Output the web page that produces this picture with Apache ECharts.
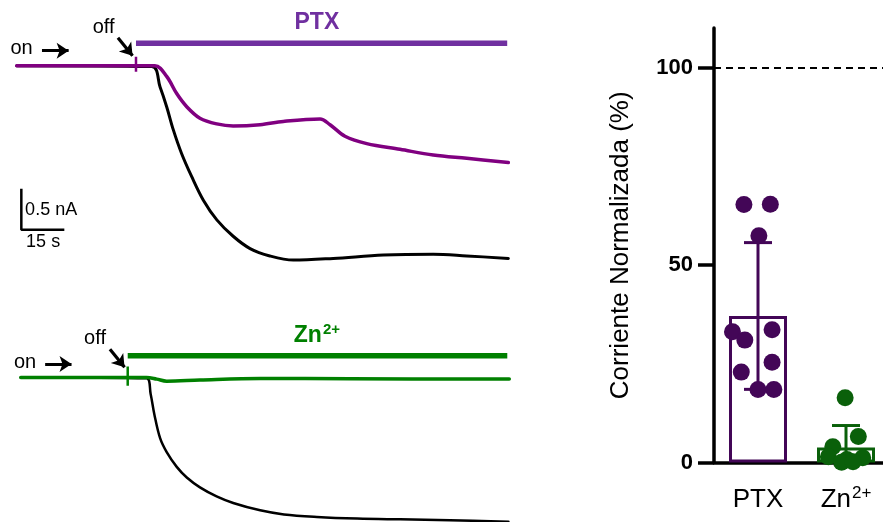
<!DOCTYPE html>
<html>
<head>
<meta charset="utf-8">
<script src="https://cdn.jsdelivr.net/npm/echarts@6/dist/echarts.min.js"></script>
<style>
  html, body { margin: 0; padding: 0; background: #fff; }
  #chart { width: 883px; height: 522px; }
</style>
</head>
<body>
<div id="chart"></div>
<script>
// ---- Recordings: time in s (0 = "off" mark), current in nA ----
// PTX experiment
const ctlTopTime = [-41.6, 5.5, 8.4, 10.7, 13.0, 15.9, 19.4, 23.5, 28.2, 33.9, 39.8, 46.7, 54.9, 68.8, 86.3, 103.7, 115.4, 129.9];
const ctlTopCurrent = [0, -0.01, -0.26, -0.50, -0.78, -1.07, -1.35, -1.64, -1.88, -2.08, -2.23, -2.32, -2.37, -2.35, -2.31, -2.30, -2.32, -2.35];
const ptxTime = [-41.6, 6.6, 10.7, 14.2, 17.7, 22.3, 28.2, 33.9, 43.3, 51.4, 64.2, 67.7, 72.9, 80.5, 92.1, 103.7, 115.4, 129.9];
const ptxCurrent = [0, 0, -0.13, -0.34, -0.50, -0.64, -0.71, -0.735, -0.72, -0.68, -0.65, -0.72, -0.86, -0.95, -1.02, -1.09, -1.13, -1.18];
const ptxApplied = [0, 129.5];

// Zn2+ experiment
const ctlBotTime = [-37.3, 6.6, 8.0, 9.3, 11.3, 13.6, 17.1, 20.6, 25.2, 31.0, 36.8, 46.2, 54.5, 66.0, 80.0, 95.0, 112.4, 132.8];
const ctlBotCurrent = [0, -0.01, -0.20, -0.45, -0.74, -0.91, -1.09, -1.22, -1.34, -1.45, -1.53, -1.62, -1.67, -1.70, -1.72, -1.73, -1.74, -1.76];
const znTime = [-37.3, 6.6, 10.1, 13.6, 25.2, 46.2, 77.5, 133.1];
const znCurrent = [0, 0, -0.02, -0.045, -0.03, -0.012, -0.016, -0.018];
const znApplied = [0, 132.4];

// Scale bar
const scaleCurrent = 0.5; // nA
const scaleTime = 15;     // s

// ---- Normalised current (%) per cell ----
const groups = ['PTX', 'Zn2+'];
const ptxPercent = [65.3, 65.4, 57.4, 33.1, 31.0, 33.6, 22.9, 25.4, 18.5, 18.5];
const ptxJitter = [-0.16, 0.14, 0.01, -0.29, -0.15, 0.16, -0.19, 0.16, 0.0, 0.18];
const znPercent = [16.4, 6.6, 4.0, 1.5, 0.8, 1.2, 0.1, 0.2];
const znJitter = [-0.01, 0.14, -0.15, -0.2, 0.01, 0.19, -0.05, 0.08];
const referenceLevel = 100;

// ---- helpers ----
const FONT = 'Liberation Sans, Arial, sans-serif';
const PURPLE_BAR = '#7030A0';
const PURPLE_TRACE = '#800080';
const GREEN = '#008000';
const DOT_PURPLE = '#430657';
const DOT_GREEN = '#0a600a';

const zip = (xs, ys) => xs.map((x, k) => [x, ys[k]]);
const mean = a => a.reduce((s, v) => s + v, 0) / a.length;
const sd = a => { const m = mean(a); return Math.sqrt(a.reduce((s, v) => s + (v - m) * (v - m), 0) / (a.length - 1)); };

const groupData = [ptxPercent, znPercent];
const groupMean = groupData.map(mean);
const groupSd = groupData.map(sd);
const groupColor = [DOT_PURPLE, DOT_GREEN];

function traceSeries(grid, data, color, width, z) {
  return {
    type: 'line', xAxisIndex: grid, yAxisIndex: grid, data,
    showSymbol: false, symbol: 'none', smooth: 0.35, sampling: null,
    lineStyle: { color, width, cap: 'round', join: 'round' }, z, silent: true, animation: false
  };
}
function segSeries(grid, data, color, width, z) {
  return {
    type: 'line', xAxisIndex: grid, yAxisIndex: grid, data,
    showSymbol: false, symbol: 'none',
    lineStyle: { color, width, cap: 'butt' }, z, silent: true, animation: false
  };
}
function arrowSeries(grid, segs) {
  return {
    type: 'lines', coordinateSystem: 'cartesian2d', xAxisIndex: grid, yAxisIndex: grid,
    data: segs.map(c => ({ coords: c })),
    symbol: ['none', 'arrow'], symbolSize: 12,
    lineStyle: { color: '#000', width: 3.2, curveness: 0, opacity: 1 },
    silent: true, animation: false, z: 5
  };
}
function noteSeries(grid, notes) {
  return {
    type: 'scatter', xAxisIndex: grid, yAxisIndex: grid, symbolSize: 2,
    itemStyle: { color: 'rgba(0,0,0,0)' }, silent: true, animation: false, z: 6,
    data: notes.map(n => ({
      value: n.at,
      label: Object.assign({
        show: true, position: 'inside', formatter: n.text,
        fontFamily: FONT, color: n.color || '#000', fontSize: n.size || 20,
        fontWeight: n.bold ? 'bold' : 'normal', align: 'center', verticalAlign: 'middle',
        textBorderWidth: 0, textBorderColor: 'transparent', opacity: 1
      }, n.extra || {})
    }))
  };
}
const supRich = (size, supSize, color, bold) => ({
  b: { fontSize: size, fontFamily: FONT, color, fontWeight: bold ? 'bold' : 'normal', verticalAlign: 'bottom', lineHeight: size + 2, textBorderWidth: 0 },
  s: { fontSize: supSize, fontFamily: FONT, color, fontWeight: bold ? 'bold' : 'normal', verticalAlign: 'top', lineHeight: size + 2, padding: [0, 0, 0, 1], textBorderWidth: 0 }
});

const hiddenAxis = (grid, min, max) => ({ type: 'value', gridIndex: grid, min, max, show: false, splitLine: { show: false } });

const option = {
  animation: false,
  backgroundColor: '#fff',
  grid: [
    { left: 7, top: 16.5, width: 504.5, height: 254.2, outerBoundsMode: 'none' },
    { left: 1.57, top: 328.3, width: 510.3, height: 196.8, outerBoundsMode: 'none' },
    { left: 714, top: 28, width: 176, height: 434.6, outerBoundsMode: 'none' }
  ],
  xAxis: [
    hiddenAxis(0, -45, 131),
    hiddenAxis(1, -44, 134),
    {
      type: 'category', gridIndex: 2, data: groups,
      axisLine: { show: true, onZero: false, lineStyle: { color: '#000', width: 3.5 } },
      axisTick: { show: false },
      axisLabel: {
        margin: 22, interval: 0,
        formatter: v => { const m = v.match(/^(.*?)(\d\+)$/); return m ? '{b|' + m[1] + '}{s|' + m[2] + '}' : '{b|' + v + '}'; },
        rich: supRich(26, 17, '#000', false)
      },
      splitLine: { show: false }
    },
    { type: 'value', gridIndex: 2, min: -0.5, max: 1.5, show: false, splitLine: { show: false } }
  ],
  yAxis: [
    hiddenAxis(0, -2.5, 0.6),
    hiddenAxis(1, -1.8, 0.6),
    {
      type: 'value', gridIndex: 2, min: 0, max: 110, position: 'left',
      name: 'Corriente Normalizada (%)', nameLocation: 'middle', nameRotate: 90, nameGap: 80,
      nameTextStyle: { fontFamily: FONT, fontSize: 26, color: '#000' },
      axisLine: { show: true, onZero: false, lineStyle: { color: '#000', width: 3.5 } },
      axisTick: { show: true, length: 16, lineStyle: { color: '#000', width: 3.5 }, customValues: [0, 50, 100] },
      axisLabel: { fontFamily: FONT, fontSize: 22, fontWeight: 'bold', color: '#000', margin: 21, customValues: [0, 50, 100] },
      splitLine: { show: false }
    }
  ],
  series: [
    // ---- PTX recording ----
    traceSeries(0, zip(ctlTopTime, ctlTopCurrent), '#000', 3, 2),
    traceSeries(0, zip(ptxTime, ptxCurrent), PURPLE_TRACE, 3.5, 3),
    segSeries(0, ptxApplied.map(t => [t, 0.273]), PURPLE_BAR, 5.5, 3),
    segSeries(0, [[0, 0.11], [0, -0.075]], PURPLE_TRACE, 2.5, 4),
    segSeries(0, [[-40, -1.5], [-40, -1.5 - scaleCurrent], [-40 + scaleTime, -1.5 - scaleCurrent]], '#000', 2.5, 3),
    arrowSeries(0, [[[-32.8, 0.183], [-23.5, 0.183]], [[-6.3, 0.34], [-1.2, 0.12]]]),
    noteSeries(0, [
      { text: 'on', at: [-39.9, 0.204] },
      { text: 'off', at: [-11.3, 0.472] },
      { text: scaleCurrent + ' nA', at: [-29.6, -1.76], size: 18 },
      { text: scaleTime + ' s', at: [-32.4, -2.15], size: 18 },
      { text: 'PTX', at: [63.1, 0.524], size: 23, bold: true, color: PURPLE_BAR }
    ]),

    // ---- Zn2+ recording ----
    traceSeries(1, zip(ctlBotTime, ctlBotCurrent), '#000', 2.5, 2),
    traceSeries(1, zip(znTime, znCurrent), GREEN, 3.5, 3),
    segSeries(1, znApplied.map(t => [t, 0.266]), GREEN, 5.5, 3),
    segSeries(1, [[0, 0.135], [0, -0.1]], GREEN, 2.5, 4),
    arrowSeries(1, [[[-28.8, 0.165], [-19.6, 0.165]], [[-6.2, 0.345], [-1.1, 0.125]]]),
    noteSeries(1, [
      { text: 'on', at: [-35.8, 0.18] },
      { text: 'off', at: [-11.4, 0.47] },
      { text: '{b|Zn}{s|2+}', at: [66.0, 0.52], color: GREEN, extra: { rich: supRich(23, 15, GREEN, true) } }
    ]),

    // ---- Summary: mean ± SD with individual cells ----
    {
      type: 'bar', xAxisIndex: 2, yAxisIndex: 2, barWidth: 58,
      data: groupMean.map((m, k) => ({ value: m, itemStyle: { color: 'rgba(0,0,0,0)', borderColor: groupColor[k], borderWidth: 3 } })),
      z: 2, silent: true,
      markLine: {
        silent: true, symbol: ['none', 'none'], label: { show: false },
        lineStyle: { color: '#000', width: 2, type: [7, 5] },
        data: [{ yAxis: referenceLevel }]
      }
    },
    {
      type: 'custom', xAxisIndex: 2, yAxisIndex: 2, z: 3, silent: true,
      data: groupMean.map((m, k) => [k, m, groupSd[k]]),
      renderItem(params, api) {
        const x = api.value(0), m = api.value(1), s = api.value(2);
        const top = api.coord([x, m + s]);
        const bot = api.coord([x, Math.max(0, m - s)]);
        const hw = 14;
        const style = { stroke: groupColor[params.dataIndex], lineWidth: 3, fill: null };
        const kids = [
          { type: 'line', shape: { x1: top[0], y1: top[1], x2: bot[0], y2: bot[1] }, style },
          { type: 'line', shape: { x1: top[0] - hw, y1: top[1], x2: top[0] + hw, y2: top[1] }, style }
        ];
        if (m - s > 0) kids.push({ type: 'line', shape: { x1: bot[0] - hw, y1: bot[1], x2: bot[0] + hw, y2: bot[1] }, style });
        return { type: 'group', children: kids };
      }
    },
    {
      type: 'scatter', xAxisIndex: 3, yAxisIndex: 2, symbolSize: 17, z: 4, silent: true,
      itemStyle: { color: DOT_PURPLE, opacity: 1 },
      data: ptxPercent.map((v, k) => [0 + ptxJitter[k], v])
    },
    {
      type: 'scatter', xAxisIndex: 3, yAxisIndex: 2, symbolSize: 17, z: 4, silent: true,
      itemStyle: { color: DOT_GREEN, opacity: 1 },
      data: znPercent.map((v, k) => [1 + znJitter[k], v])
    }
  ]
};

const chart = echarts.init(document.getElementById('chart'), null, { renderer: 'canvas' });
chart.setOption(option);
</script>
</body>
</html>
